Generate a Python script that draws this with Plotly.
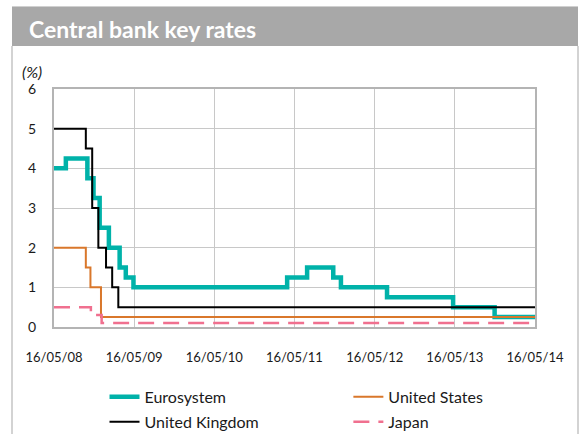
import plotly.graph_objects as go

# Policy rate change dates and the rate that applies from each date (%)
euro_dates = ["2008-05-16", "2008-07-09", "2008-10-15", "2008-11-12", "2008-12-10",
              "2009-01-21", "2009-03-11", "2009-04-08", "2009-05-13", "2011-04-13",
              "2011-07-13", "2011-11-09", "2011-12-14", "2012-07-11", "2013-05-08",
              "2013-11-13", "2014-05-16"]
euro_rates = [4.00, 4.25, 3.75, 3.25, 2.50, 2.00, 1.50, 1.25, 1.00, 1.25,
              1.50, 1.25, 1.00, 0.75, 0.50, 0.25, 0.25]

uk_dates = ["2008-05-16", "2008-10-08", "2008-11-06", "2008-12-04", "2009-01-08",
            "2009-02-05", "2009-03-05", "2014-05-16"]
uk_rates = [5.00, 4.50, 3.00, 2.00, 1.50, 1.00, 0.50, 0.50]

us_dates = ["2008-05-16", "2008-10-08", "2008-10-29", "2008-12-16", "2014-05-16"]
us_rates = [2.00, 1.50, 1.00, 0.25, 0.25]

jp_dates = ["2008-05-16", "2008-10-31", "2008-12-19", "2014-05-16"]
jp_rates = [0.50, 0.30, 0.10, 0.10]

tick_dates = ["2008-05-16", "2009-05-16", "2010-05-16", "2011-05-16",
              "2012-05-16", "2013-05-16", "2014-05-16"]
tick_labels = ["16/05/08", "16/05/09", "16/05/10", "16/05/11",
               "16/05/12", "16/05/13", "16/05/14"]

FONT = "Lato, 'Open Sans', sans-serif"
TEAL = "#00B2A9"
ORANGE = "#D9772B"
PINK = "#F0708F"

fig = go.Figure()
fig.add_trace(go.Scatter(x=euro_dates, y=euro_rates, name="Eurosystem", mode="lines",
                         line=dict(color=TEAL, width=4.5, shape="hv"), legend="legend"))
fig.add_trace(go.Scatter(x=us_dates, y=us_rates, name="United States", mode="lines",
                         line=dict(color=ORANGE, width=2, shape="hv"), legend="legend2"))
fig.add_trace(go.Scatter(x=uk_dates, y=uk_rates, name="United Kingdom", mode="lines",
                         line=dict(color="black", width=2, shape="hv"), legend="legend3"))
fig.add_trace(go.Scatter(x=jp_dates, y=jp_rates, name="Japan", mode="lines",
                         line=dict(color=PINK, width=2.5, shape="hv", dash="16px,9px"),
                         legend="legend4"))

leg_common = dict(bgcolor="rgba(0,0,0,0)", xanchor="left", yanchor="middle",
                  font=dict(family=FONT, size=16, color="#1a1a1a"))
fig.update_layout(
    width=584, height=434,
    showlegend=True,
    margin=dict(l=54, r=49, t=89, b=107, autoexpand=False),
    paper_bgcolor="white", plot_bgcolor="white",
    font=dict(family=FONT, size=14, color="#1a1a1a"),
    legend=dict(x=0.105, y=-0.294, **leg_common),
    legend2=dict(x=0.612, y=-0.294, **leg_common),
    legend3=dict(x=0.105, y=-0.399, **leg_common),
    legend4=dict(x=0.612, y=-0.399, **leg_common),
    xaxis=dict(type="date", range=[tick_dates[0], tick_dates[-1]],
               tickvals=tick_dates, ticktext=tick_labels,
               showgrid=True, gridcolor="#C8C8C8", gridwidth=1,
               showline=True, linecolor="#B4B4B4", linewidth=2, mirror=True,
               ticks="", ticklabelstandoff=17, zeroline=False,
               tickfont=dict(family=FONT, size=13, color="#1a1a1a")),
    yaxis=dict(range=[0, 6], tickvals=[0, 1, 2, 3, 4, 5, 6],
               showgrid=True, gridcolor="#C8C8C8", gridwidth=1,
               showline=True, linecolor="#B4B4B4", linewidth=2, mirror=True,
               ticks="", ticklabelstandoff=13, zeroline=False,
               tickfont=dict(family=FONT, size=14, color="#1a1a1a")),
    shapes=[
        # title band
        dict(type="rect", xref="paper", yref="paper", layer="below",
             x0=-42 / 481, x1=524 / 481, y0=(327 - 46) / 238, y1=(327 - 7) / 238,
             fillcolor="#A8A8A8", line=dict(width=0)),
        dict(type="line", xref="paper", yref="paper",
             x0=-42 / 481, x1=524 / 481, y0=(327 - 6.5) / 238, y1=(327 - 6.5) / 238,
             line=dict(color="#D0D0D0", width=1)),
        # panel side rules
        dict(type="line", xref="paper", yref="paper",
             x0=-42 / 481, x1=-42 / 481, y0=(327 - 434) / 238, y1=(327 - 46) / 238,
             line=dict(color="#C4C4C4", width=1.5)),
        dict(type="line", xref="paper", yref="paper",
             x0=524 / 481, x1=524 / 481, y0=(327 - 434) / 238, y1=(327 - 46) / 238,
             line=dict(color="#C4C4C4", width=1.5)),
    ],
    annotations=[
        dict(text="<b>Central bank key rates</b>", xref="paper", yref="paper",
             x=-27 / 481, y=(327 - 29) / 238, xanchor="left", yanchor="middle",
             showarrow=False, font=dict(family=FONT, size=23, color="white")),
        dict(text="<i>(%)</i>", xref="paper", yref="paper",
             x=-22 / 481, y=(327 - 71) / 238, xanchor="center", yanchor="middle",
             showarrow=False, font=dict(family=FONT, size=16, color="#1a1a1a")),
    ],
)

fig.write_html("out.html")
